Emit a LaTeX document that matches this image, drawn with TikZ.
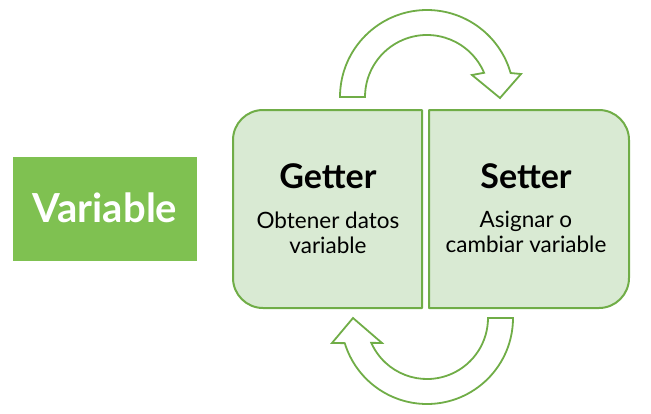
\documentclass[tikz,border=0pt]{standalone}
\usepackage{fontspec}
\setmainfont{Lato}
\usetikzlibrary{calc}
\begin{document}
\begin{tikzpicture}[x=1pt,y=-1pt,
  linecol/.style={draw=gline,line width=2pt,fill=gfill,line join=round},
  arrowshape/.style={draw=gline,line width=1.8pt,fill=white,line join=miter},
  title/.style={font=\fontsize{34}{38}\selectfont\bfseries,anchor=base,inner sep=0pt},
  sub/.style={font=\fontsize{22.5}{24.5}\selectfont,align=center,anchor=base,inner sep=0pt}]
\definecolor{gline}{HTML}{70AD47}
\definecolor{gfill}{HTML}{D9EAD3}
\definecolor{gdark}{HTML}{7FC151}
\useasboundingbox (0,0) rectangle (651,413);
% Variable box
\fill[gdark] (13,157) rectangle (197,261);
\node[font=\fontsize{40}{44}\selectfont\bfseries,text=white,anchor=base,inner sep=0pt] (var) at (105,222) {Variable};
% Getter box
\path[linecol] (422,110) -- (263,110) .. controls (246.5,110) and (233,123.5) .. (233,140)
  -- (233,278) .. controls (233,294.5) and (246.5,308) .. (263,308) -- (422,308) -- cycle;
% Setter box
\path[linecol] (429,110) -- (599,110) .. controls (615.5,110) and (629,123.5) .. (629,140)
  -- (629,278) .. controls (629,294.5) and (615.5,308) .. (599,308) -- (429,308) -- cycle;
\node[title] (get) at (328,188) {Getter};
\node[title] (set) at (526,188) {Setter};
\node[sub] (gets) at (328,253) {Obtener datos\\variable};
\node[sub] (sets) at (526,252) {Asignar o\\cambiar variable};
% top arrow
\coordinate (c1) at (427,97);
\path[arrowshape] ($(c1)+(-180:87)$) arc[start angle=-180,end angle=-16,radius=87]
  -- (521,74) -- (500,98) -- (472,75) -- ($(c1)+(-23:62)$)
  arc[start angle=-23,end angle=-180,radius=62] -- cycle;
% bottom arrow
\coordinate (c2) at (427,318);
\path[arrowshape] ($(c2)+(0:86)$) arc[start angle=0,end angle=163,radius=86]
  -- (332,343) -- (353,318) -- (382,343) -- ($(c2)+(156:61)$)
  arc[start angle=156,end angle=0,radius=61] -- cycle;
\end{tikzpicture}
\end{document}
